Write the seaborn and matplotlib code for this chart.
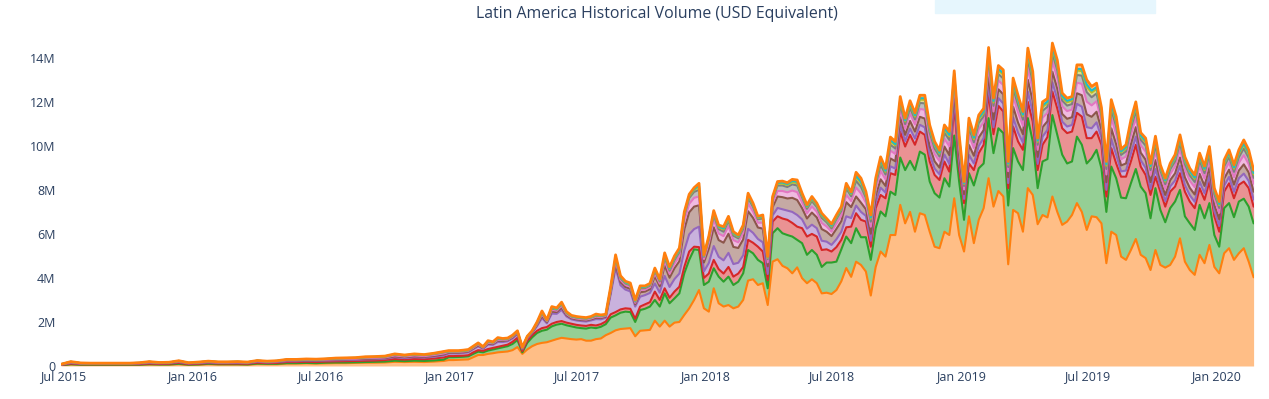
import numpy as np
import pandas as pd
import matplotlib
matplotlib.use('Agg')
import matplotlib.pyplot as plt
import seaborn as sns
from matplotlib.patches import Rectangle

# ---------------- data (values in millions USD) ----------------
early_dates = pd.date_range('2015-06-28', periods=40, freq='14D')
late_dates = pd.date_range('2017-01-01', '2020-02-23', freq='7D')
dates = early_dates.append(late_dates)

layer_names = ['s1', 's2', 's3', 's4', 's5', 's6', 's7', 's8', 's9', 's10']

orange = [.03,.07,.05,.05,.05,.05,.05,.05,.05,.07, .06,.06,.08,.05,.06,.08,.07,.07,.07,.06,
          .09,.08,.08,.11,.11,.12,.11,.12,.13,.13, .14,.15,.15,.16,.19,.18,.19,.18,.20,.23,
          .27,.27,.28,.29,.30,.40,.50,.50,.55,.58, .62,.64,.66,.72,.86,.55,.75,.90,1.0,1.05,
          1.08,1.15,1.22,1.28,1.25,1.22,1.20,1.22,1.15,1.15, 1.22,1.25,1.40,1.50,1.62,1.68,1.70,1.72,1.35,1.60,
          1.62,1.64,2.06,1.79,2.06,1.79,1.97,2.0,2.32,2.62, 3.0,3.45,2.62,2.47,3.53,2.85,2.7,2.77,2.62,2.7,
          3.0,3.88,3.94,3.68,3.76,2.77,4.74,4.85,4.55,4.44, 4.21,4.48,3.99,3.76,3.94,3.76,3.3,3.33,3.27,3.45,
          3.85,4.45,4.05,4.74,4.59,4.29,3.2,4.5,5.2,4.97, 5.95,5.95,7.32,6.48,7.0,6.1,6.94,6.86,6.1,5.42,
          5.35,6.1,5.95,7.62,5.95,5.2,6.8,5.58,6.64,7.17, 8.53,7.24,7.95,7.7,4.62,7.09,6.94,6.1,8.08,7.77,
          6.44,6.86,6.75,7.7,7.0,6.41,6.56,6.86,7.4,7.0, 6.18,6.8,6.76,6.48,4.67,6.1,5.95,4.97,4.82,5.27,
          5.77,5.05,4.9,4.36,5.27,4.59,4.47,4.59,4.97,5.8, 4.74,4.36,4.14,5.05,4.67,5.5,4.5,4.21,5.12,5.35,
          4.82,5.12,5.35,4.74,4.03]

green = [.00,.01,.01,.01,.01,.01,.01,.01,.01,.01, .01,.01,.02,.01,.01,.02,.01,.01,.01,.01,
         .02,.02,.02,.02,.02,.02,.02,.03,.03,.03, .03,.03,.04,.04,.05,.04,.05,.05,.05,.06,
         .13,.13,.13,.13,.14,.15,.15,.12,.15,.17, .18,.21,.24,.28,.32,.07,.30,.40,.50,.55,
         .57,.65,.66,.64,.60,.58,.55,.50,.55,.60, .50,.53,.50,.70,.68,.74,.77,.73,.65,.94,
         .98,1.06,.94,.91,1.24,1.06,1.10,1.30,1.89,2.20, 2.30,1.82,1.06,1.36,.91,1.21,1.13,1.29,1.06,1.13,
         1.21,1.39,1.18,1.14,.91,.76,1.29,1.41,1.48,1.51, 1.67,1.25,1.59,1.29,1.33,1.29,1.20,1.37,1.43,1.29,
         1.45,1.43,1.53,1.52,1.26,1.56,1.62,1.76,1.82,1.83, 1.97,1.82,2.15,2.42,2.32,2.80,2.80,2.74,2.28,2.43,
         2.30,2.43,2.20,2.85,2.43,1.44,1.96,2.62,2.34,2.03, 2.73,2.43,2.85,2.88,2.67,2.81,2.35,2.80,3.18,2.43,
         1.64,2.43,2.65,3.70,3.50,3.19,2.64,2.43,3.02,3.05, 3.02,2.64,3.06,2.50,2.33,2.96,2.58,2.68,2.80,3.03,
         3.18,3.10,2.95,2.35,2.81,2.50,2.06,2.58,2.50,2.20, 2.06,2.12,2.04,2.27,2.04,1.90,1.45,1.21,2.05,2.05,
         1.94,2.35,2.25,2.50,2.45]

red = [.01,.03,.02,.02,.02,.02,.02,.02,.02,.03, .02,.03,.04,.02,.03,.03,.03,.03,.03,.03,
       .04,.03,.04,.05,.05,.05,.05,.05,.05,.06, .06,.06,.06,.07,.08,.07,.08,.08,.09,.10,
       .05,.05,.05,.05,.05,.07,.07,.07,.07,.07, .07,.07,.07,.10,.10,.06,.10,.10,.10,.12,
       .12,.12,.12,.12,.12,.12,.12,.12,.12,.12, .12,.12,.12,.15,.15,.15,.15,.15,.15,.16,
       .20,.20,.38,.30,.23,.25,.31,.30,.29,.38, .12,.13,.32,.37,.38,.34,.37,.44,.38,.37,
       .29,.46,.48,.60,.53,.37,.53,.54,.67,.69, .62,.60,.68,.83,.73,.83,.77,.60,.50,.66,
       .43,.42,.75,.68,.79,.71,.60,.91,.75,.82, .84,.91,1.18,1.07,1.18,1.15,.91,.90,.91,.83,
       .80,.76,.68,1.40,.60,.76,.44,.70,.69,.85, 1.14,.86,1.02,.98,.79,.98,.91,.92,.74,.90,
       .82,.76,1.0,1.07,1.20,1.20,1.38,1.36,1.08,1.28, 1.15,.91,.83,1.07,.70,.84,.67,.95,.98,.99,
       1.10,.91,.83,1.06,.52,.83,.71,.75,.68,.76, 1.12,.99,.99,.76,.84,.98,.85,.68,.75,.90,
       .86,.76,.78,.84,.76]

purple = [.01,.03,.02,.02,.02,.02,.02,.02,.03,.03, .03,.03,.04,.03,.03,.03,.03,.03,.03,.03,
          .04,.03,.04,.04,.04,.05,.05,.05,.05,.05, .05,.06,.06,.06,.08,.07,.08,.07,.08,.09,
          .12,.12,.11,.12,.13,.14,.17,.09,.20,.14, .22,.17,.15,.15,.16,.08,.10,.10,.21,.46,
          .17,.46,.37,.51,.28,.20,.20,.20,.20,.20, .29,.22,.17,.90,2.0,1.10,.85,.79,.55,.45,
          .42,.42,.37,.33,.56,.49,.57,.60,.75,.78, .80,.93,.30,.48,.63,.56,.60,.64,.57,.49,
          .53,.50,.45,.35,.42,.28,.28,.38,.42,.42, .50,.53,.40,.36,.42,.38,.42,.35,.30,.36,
          .37,.50,.39,.35,.36,.26,.27,.26,.33,.26, .31,.29,.30,.25,.29,.28,.31,.34,.32,.29,
          .26,.32,.35,.32,.29,.19,.39,.30,.33,.31, .39,.31,.35,.36,.23,.42,.40,.33,.46,.43,
          .28,.37,.33,.42,.42,.30,.30,.30,.41,.45, .50,.45,.42,.32,.30,.42,.40,.24,.28,.36,
          .37,.29,.32,.27,.35,.23,.25,.24,.28,.33, .30,.29,.29,.30,.29,.30,.24,.26,.27,.29,
          .29,.30,.36,.33,.32]

brown = [.01,.02,.01,.01,.01,.01,.01,.01,.01,.02, .01,.01,.02,.01,.01,.02,.01,.01,.02,.01,
         .02,.02,.02,.02,.02,.02,.02,.02,.03,.03, .03,.03,.03,.03,.04,.04,.04,.04,.04,.05,
         .04,.04,.04,.04,.04,.04,.05,.03,.05,.04, .06,.05,.05,.05,.05,.03,.03,.03,.06,.09,
         .05,.09,.08,.10,.06,.05,.05,.05,.05,.05, .06,.06,.05,.10,.18,.14,.12,.12,.10,.20,
         .16,.17,.32,.29,.48,.42,.49,.56,.95,1.0, 1.02,.97,.40,.65,.85,.76,.80,.87,.78,.67,
         .72,.80,.68,.52,.62,.35,.37,.52,.55,.55, .64,.68,.51,.46,.55,.49,.53,.45,.40,.47,
         .48,.64,.50,.41,.42,.30,.32,.30,.38,.30, .36,.33,.35,.28,.34,.32,.36,.40,.36,.33,
         .30,.36,.40,.34,.33,.22,.45,.35,.38,.36, .46,.36,.40,.42,.27,.48,.46,.38,.54,.50,
         .32,.43,.39,.48,.48,.35,.35,.35,.48,.52, .58,.52,.48,.37,.35,.48,.47,.27,.32,.42,
         .43,.34,.37,.31,.40,.27,.28,.28,.32,.38, .35,.33,.33,.35,.34,.35,.28,.30,.32,.33,
         .33,.35,.42,.38,.36]

pink = [.01,.01,.01,.01,.01,.01,.01,.01,.01,.01, .01,.01,.01,.01,.01,.01,.01,.01,.01,.01,
        .01,.01,.01,.02,.02,.02,.02,.02,.02,.02, .02,.03,.03,.03,.04,.03,.04,.03,.04,.04,
        .03,.03,.03,.03,.03,.03,.04,.02,.04,.03, .04,.04,.03,.03,.04,.02,.02,.02,.04,.08,
        .04,.08,.06,.09,.05,.04,.04,.04,.04,.04, .05,.04,.04,.08,.15,.10,.09,.09,.07,.10,
        .09,.09,.14,.12,.21,.18,.21,.23,.38,.39, .40,.40,.16,.26,.34,.30,.30,.35,.31,.26,
        .29,.35,.29,.22,.27,.18,.19,.25,.28,.28, .33,.36,.27,.24,.28,.26,.28,.24,.20,.24,
        .26,.34,.27,.41,.42,.30,.32,.30,.38,.30, .36,.33,.35,.28,.34,.32,.36,.40,.36,.33,
        .30,.36,.40,.34,.33,.21,.45,.35,.38,.36, .45,.36,.40,.42,.27,.48,.46,.38,.54,.50,
        .32,.43,.38,.48,.48,.35,.35,.35,.48,.52, .58,.52,.48,.37,.35,.48,.47,.28,.32,.42,
        .43,.34,.37,.32,.41,.27,.28,.28,.32,.38, .35,.33,.33,.35,.33,.35,.28,.30,.32,.33,
        .33,.35,.42,.38,.36]

gray = [.01,.02,.01,.01,.01,.01,.01,.01,.01,.02, .01,.01,.02,.01,.02,.02,.02,.02,.02,.02,
        .02,.02,.02,.02,.02,.02,.02,.02,.03,.03, .03,.03,.03,.03,.04,.04,.04,.04,.04,.05,
        .02,.02,.02,.02,.02,.03,.03,.02,.04,.03, .04,.03,.03,.03,.03,.02,.02,.02,.04,.06,
        .03,.06,.05,.07,.04,.04,.04,.04,.04,.04, .04,.04,.03,.07,.12,.08,.07,.07,.05,.08,
        .07,.07,.11,.10,.16,.14,.16,.18,.25,.26, .27,.30,.10,.17,.22,.20,.20,.23,.20,.18,
        .19,.25,.21,.16,.19,.14,.16,.25,.25,.24, .28,.30,.22,.20,.24,.21,.23,.19,.15,.20,
        .21,.28,.22,.30,.30,.22,.23,.22,.28,.22, .26,.25,.25,.21,.25,.23,.27,.29,.27,.25,
        .21,.27,.29,.24,.25,.16,.33,.26,.28,.27, .33,.26,.29,.30,.19,.35,.34,.28,.39,.37,
        .23,.31,.28,.35,.35,.26,.25,.25,.35,.37, .43,.37,.35,.27,.25,.35,.34,.20,.23,.30,
        .31,.25,.27,.23,.29,.20,.21,.21,.23,.28, .25,.24,.24,.25,.25,.25,.21,.22,.23,.25,
        .25,.25,.30,.28,.27]

olive = [0,0,0,0,0,0,0,0,0,0, 0,0,0,0,0,0,0,0,0,0,
         0,0,0,.01,.01,.01,.01,.01,.01,.01, .01,.01,.01,.01,.01,.01,.01,.01,.02,.02,
         .01,.01,.01,.01,.01,.01,.01,.01,.01,.01, .02,.01,.01,.01,.01,.01,.01,.01,.01,.03,
         .01,.03,.02,.03,.02,.01,.01,.01,.01,.01, .02,.02,.01,.03,.05,.04,.03,.03,.03,.04,
         .04,.04,.05,.05,.08,.07,.08,.08,.08,.08, .09,.15,.04,.07,.09,.08,.10,.09,.08,.07,
         .08,.10,.08,.06,.07,.05,.06,.08,.09,.09, .10,.11,.08,.08,.09,.08,.09,.07,.08,.08,
         .08,.11,.09,.17,.17,.12,.13,.12,.16,.12, .15,.14,.15,.12,.14,.13,.15,.16,.15,.14,
         .12,.15,.16,.13,.14,.09,.19,.14,.16,.15, .19,.15,.17,.17,.11,.20,.19,.16,.22,.21,
         .13,.18,.16,.20,.20,.14,.15,.15,.20,.21, .24,.21,.20,.15,.15,.20,.19,.11,.13,.17,
         .18,.14,.15,.13,.17,.11,.12,.12,.13,.16, .14,.14,.14,.15,.14,.15,.12,.12,.13,.14,
         .14,.15,.17,.16,.15]

cyan = [0,0,0,0,0,0,0,0,0,0, 0,0,0,0,0,0,0,0,0,0,
        0,0,0,0,0,0,0,0,0,0, 0,.01,.01,.01,.01,.01,.01,.01,.01,.01,
        .01,.01,.01,.01,.01,.01,.01,.01,.01,.01, .01,.01,.01,.01,.01,.00,.01,.01,.01,.02,
        .01,.02,.02,.02,.02,.01,.01,.01,.01,.01, .02,.01,.01,.02,.03,.02,.02,.02,.01,.02,
        .02,.02,.03,.02,.04,.03,.03,.03,.04,.04, .04,.05,.02,.03,.05,.04,.05,.05,.04,.03,
        .04,.04,.03,.03,.04,.03,.03,.04,.05,.05, .06,.06,.05,.04,.05,.04,.05,.04,.04,.04,
        .04,.05,.04,.07,.07,.06,.06,.05,.07,.05, .07,.06,.07,.05,.07,.06,.07,.07,.07,.06,
        .05,.07,.07,.06,.06,.04,.08,.07,.07,.07, .08,.07,.07,.07,.05,.09,.08,.07,.10,.09,
        .06,.08,.07,.09,.09,.07,.07,.07,.08,.09, .11,.09,.09,.07,.07,.09,.09,.05,.06,.07,
        .08,.06,.06,.06,.07,.05,.05,.05,.06,.07, .07,.06,.06,.07,.06,.07,.05,.06,.06,.06,
        .06,.07,.07,.07,.07]

top = [.00,.01,.01,.00,.00,.00,.00,.00,.01,.01, .01,.01,.01,.01,.01,.01,.01,.01,.01,.01,
       .01,.01,.01,.01,.01,.01,.01,.01,.01,.01, .01,.01,.01,.01,.01,.01,.01,.01,.01,.01,
       .02,.02,.02,.02,.02,.02,.02,.01,.03,.02, .03,.02,.02,.02,.02,.01,.01,.01,.03,.04,
       .02,.04,.04,.04,.03,.03,.03,.03,.03,.03, .04,.03,.02,.05,.07,.05,.05,.05,.04,.05,
       .04,.04,.05,.04,.08,.07,.08,.08,.05,.05, .06,.10,.03,.04,.06,.06,.08,.07,.06,.05,
       .05,.08,.06,.04,.05,.04,.05,.06,.06,.06, .07,.08,.06,.06,.07,.06,.07,.06,.08,.07,
       .07,.08,.06,.15,.15,.11,.11,.11,.13,.11, .13,.12,.12,.10,.12,.11,.13,.14,.13,.12,
       .11,.13,.15,.11,.12,.07,.17,.13,.13,.13, .17,.13,.15,.15,.09,.18,.17,.14,.19,.18,
       .11,.15,.14,.18,.18,.13,.12,.12,.18,.19, .21,.19,.18,.14,.12,.18,.17,.10,.11,.15,
       .15,.12,.13,.11,.15,.09,.10,.10,.11,.14, .12,.12,.12,.12,.12,.12,.10,.11,.11,.12,
       .12,.12,.15,.14,.13]

tick_dates = ['2015-07-01', '2016-01-01', '2016-07-01', '2017-01-01', '2017-07-01',
              '2018-01-01', '2018-07-01', '2019-01-01', '2019-07-01', '2020-01-01']
tick_labels = ['Jul 2015', 'Jan 2016', 'Jul 2016', 'Jan 2017', 'Jul 2017',
               'Jan 2018', 'Jul 2018', 'Jan 2019', 'Jul 2019', 'Jan 2020']
y_ticks = [0, 2, 4, 6, 8, 10, 12, 14]
y_labels = ['0', '2M', '4M', '6M', '8M', '10M', '12M', '14M']
title = 'Latin America Historical Volume (USD Equivalent)'

# ---------------- styling ----------------
colors = ['#ff7f0e', '#2ca02c', '#d62728', '#9467bd', '#8c564b',
          '#e377c2', '#7f7f7f', '#bcbd22', '#17becf', '#ff7f0e']

sns.set_theme(style='white')
plt.rcParams['font.family'] = ['Open Sans', 'DejaVu Sans']

series = [orange, green, red, purple, brown, pink, gray, olive, cyan, top]
values = np.array(series, dtype=float)
n = len(dates)
for s, nm in zip(series, layer_names):
    assert len(s) == n, (nm, len(s), n)
cum = np.cumsum(values, axis=0)
lower = np.vstack([np.zeros(n), cum[:-1]])

fig = plt.figure(figsize=(12.69, 3.99), dpi=100)
ax = fig.add_axes([61 / 1269, 33 / 399, 1192.6 / 1269, 339 / 399])

for j, c in enumerate(colors):
    ax.fill_between(dates, lower[j], cum[j], color=c, alpha=0.5, linewidth=0, zorder=1)

df = pd.DataFrame({
    'date': np.tile(np.asarray(dates), len(layer_names)),
    'layer': np.repeat(layer_names, n),
    'cum': cum.ravel(),
})
sns.lineplot(data=df, x='date', y='cum', hue='layer', hue_order=layer_names,
             palette=dict(zip(layer_names, colors)), linewidth=1.5,
             estimator=None, sort=False, legend=False, ax=ax, zorder=2)
# emphasise the outermost line
ax.lines[-1].set_linewidth(2.0)

ax.set_xlim(dates[0], dates[-1])
ax.set_ylim(0, 15.4)
ax.set_xticks(pd.to_datetime(tick_dates))
ax.set_xticklabels(tick_labels)
ax.set_yticks(y_ticks)
ax.set_yticklabels(y_labels)
ax.set_xlabel('')
ax.set_ylabel('')
for sp in ax.spines.values():
    sp.set_visible(False)
ax.grid(False)
ax.tick_params(axis='both', length=0, labelsize=9, colors='#2a3f5f')
ax.tick_params(axis='y', pad=4)
ax.tick_params(axis='x', pad=3)

fig.text(657 / 1269, 1 - 14 / 399, title, ha='center', va='center',
         fontsize=11.4, color='#2a3f5f')
fig.patches.append(Rectangle((935 / 1269, 1 - 13 / 399), 220 / 1269, 13 / 399,
                             transform=fig.transFigure, color='#e6f6fd', zorder=0))

fig.savefig('out.png', dpi=100)
